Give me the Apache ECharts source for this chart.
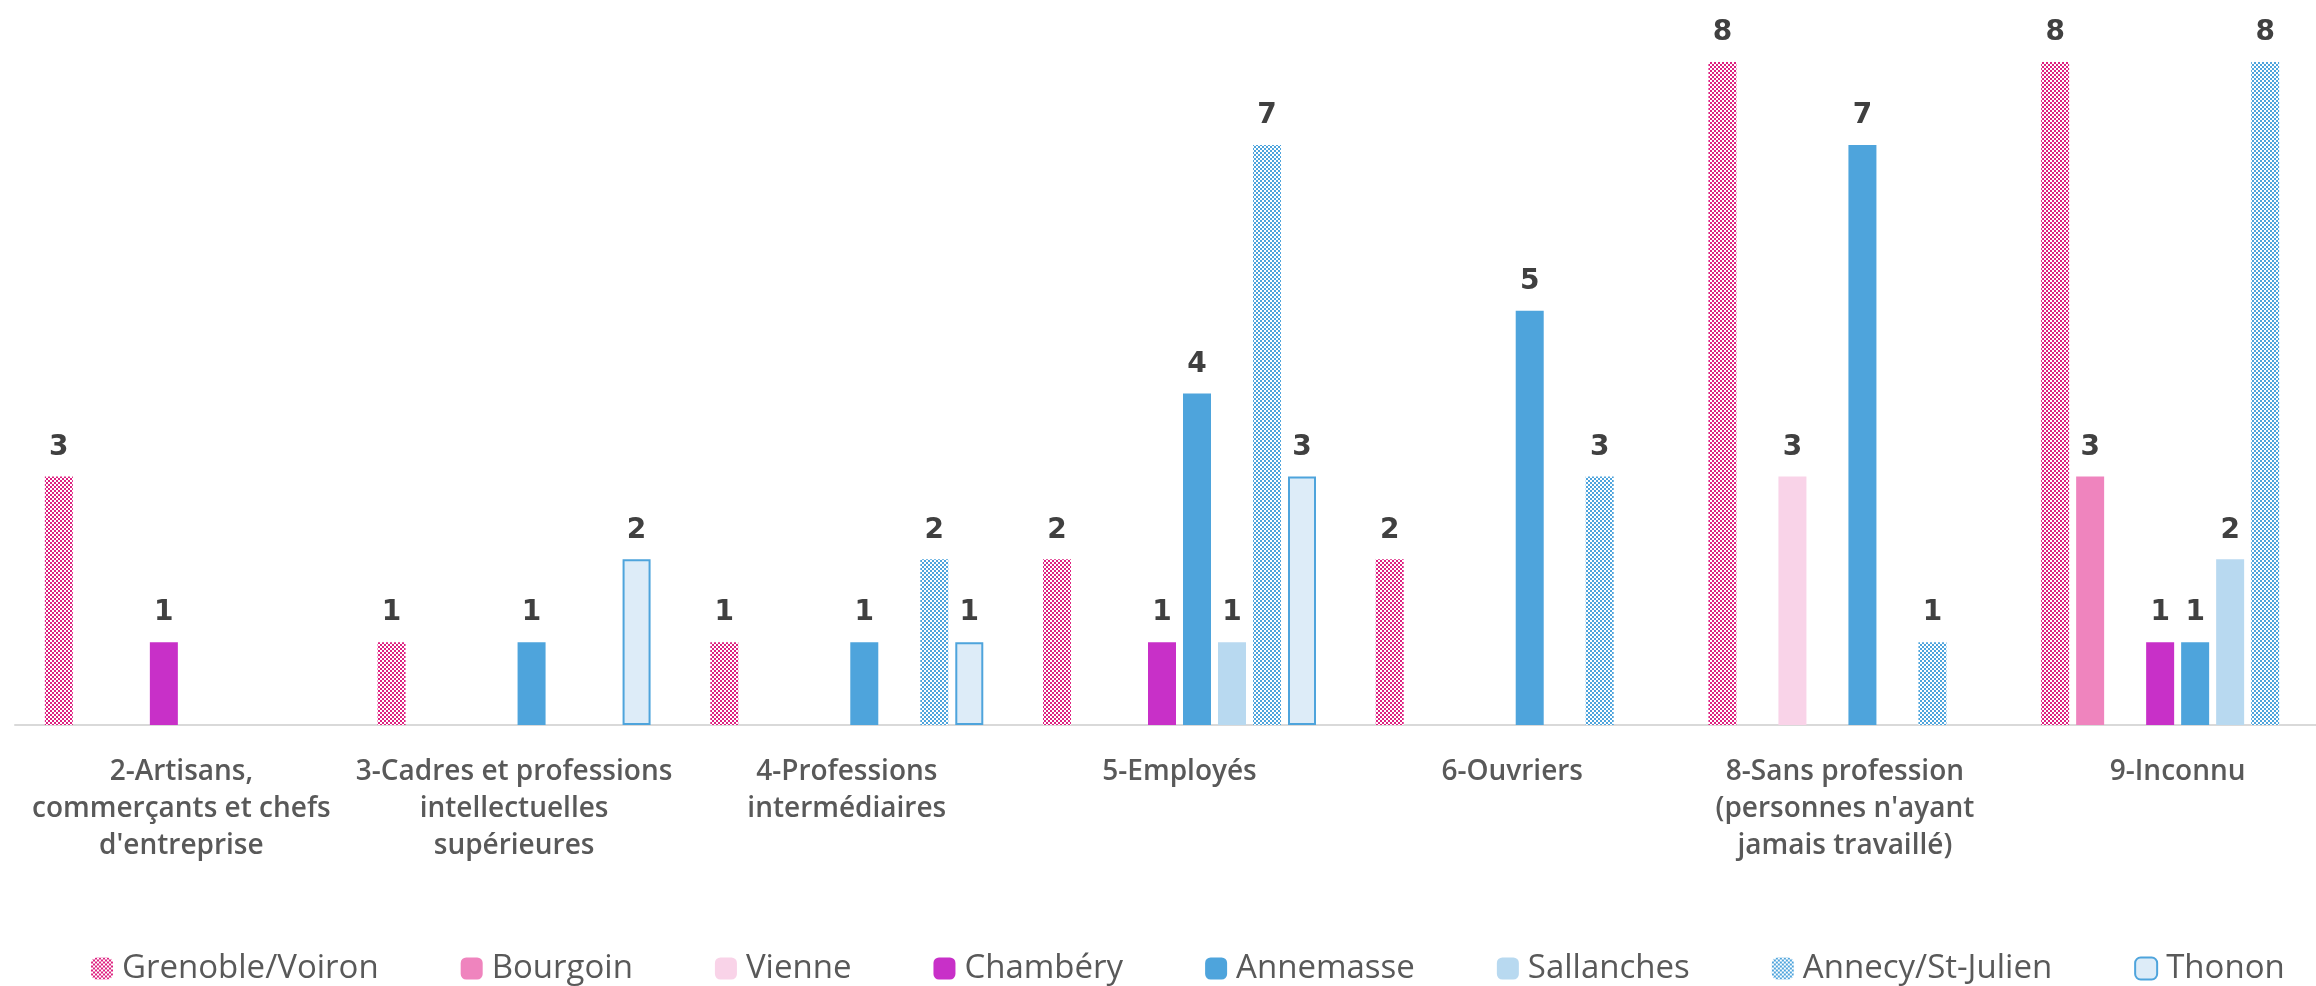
<!DOCTYPE html>
<html>
<head>
<meta charset="utf-8">
<title>CSP par site</title>
<script src="https://cdn.jsdelivr.net/npm/echarts@6/dist/echarts.min.js"></script>
<style>
  html, body { margin: 0; padding: 0; background: #fff; }
  #bar-chart { width: 2316px; height: 986px; }
</style>
</head>
<body>
<div id="bar-chart"></div>
<script>
var categories = [
  '2-Artisans,\ncommerçants et chefs\nd\'entreprise',
  '3-Cadres et professions\nintellectuelles\nsupérieures',
  '4-Professions\nintermédiaires',
  '5-Employés',
  '6-Ouvriers',
  '8-Sans profession\n(personnes n\'ayant\njamais travaillé)',
  '9-Inconnu'
];

var grenoble   = [3, 1, 1, 2, 2, 8, 8];
var bourgoin   = [null, null, null, null, null, null, 3];
var vienne     = [null, null, null, null, null, 3, null];
var chambery   = [1, null, null, 1, null, null, 1];
var annemasse  = [null, 1, 1, 4, 5, 7, 1];
var sallanches = [null, null, null, 1, null, null, 2];
var annecy     = [null, null, 2, 7, 3, 1, 8];
var thonon     = [null, 2, 1, 3, null, null, null];

// petit damier 2px pour les series hachurees
function checker (color) {
  var c = document.createElement('canvas');
  c.width = 4;
  c.height = 4;
  var ctx = c.getContext('2d');
  ctx.fillStyle = '#ffffff';
  ctx.fillRect(0, 0, 4, 4);
  ctx.fillStyle = color;
  ctx.fillRect(0, 0, 2, 2);
  ctx.fillRect(2, 2, 2, 2);
  return { image: c, repeat: 'repeat' };
}

function bar (name, data, itemStyle) {
  return {
    name: name,
    type: 'bar',
    data: data,
    barWidth: 28,
    barGap: '25%',
    itemStyle: itemStyle,
    label: {
      show: true,
      position: 'top',
      distance: 15,
      color: '#404040',
      fontSize: 28,
      fontWeight: 'bold',
      fontFamily: 'DejaVu Sans'
    }
  };
}

var chart = echarts.init(document.getElementById('bar-chart'));
chart.setOption({
  animation: false,
  grid: {
    left: 15,
    width: 2329,
    top: 62,
    bottom: 261,
    outerBoundsMode: 'none'
  },
  legend: {
    left: 86,
    top: 947,
    itemWidth: 22,
    itemHeight: 22,
    itemGap: 82,
    textStyle: {
      color: '#595959',
      fontSize: 33,
      fontFamily: 'Open Sans',
      padding: [0, 0, 0, 4]
    }
  },
  xAxis: {
    type: 'category',
    data: categories,
    axisTick: { show: false },
    axisLine: { lineStyle: { color: '#d9d9d9', width: 2 } },
    axisLabel: {
      interval: 0,
      margin: 29,
      color: '#595959',
      fontSize: 28,
      lineHeight: 37,
      fontWeight: 600,
      fontFamily: 'Open Sans'
    }
  },
  yAxis: {
    type: 'value',
    min: 0,
    max: 8,
    show: false,
    splitLine: { show: false }
  },
  series: [
    bar('Grenoble/Voiron', grenoble, { color: checker('#de2180') }),
    bar('Bourgoin', bourgoin, { color: '#ef84be' }),
    bar('Vienne', vienne, { color: '#f9d3e8' }),
    bar('Chambéry', chambery, { color: '#c830c8' }),
    bar('Annemasse', annemasse, { color: '#4ea4dc' }),
    bar('Sallanches', sallanches, { color: '#b8d9f0' }),
    bar('Annecy/St-Julien', annecy, { color: checker('#4ea4dc') }),
    bar('Thonon', thonon, { color: '#ddecf8', borderColor: '#4ea4dc', borderWidth: 2 })
  ]
});
</script>
</body>
</html>
